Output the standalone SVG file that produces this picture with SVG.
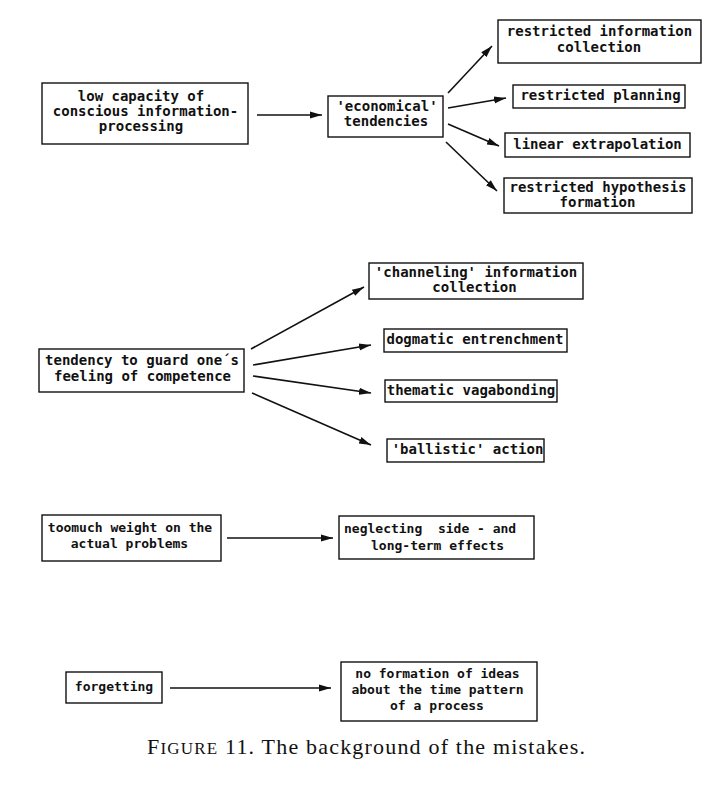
<svg xmlns="http://www.w3.org/2000/svg" width="718" height="793" viewBox="0 0 718 793">
<style>
rect.box{fill:#fff;stroke:#111;stroke-width:1.4}
text.t{font-family:"DejaVu Sans Mono","Liberation Mono",monospace;font-weight:bold;font-size:14px;fill:#111;text-anchor:middle}
text.s{font-size:13px}
.conn line{stroke:#111;stroke-width:1.6;marker-end:url(#ah)}
text.cap{font-family:"Liberation Serif","Times New Roman",serif;font-size:22px;fill:#111}
</style>
<defs>
<marker id="ah" markerUnits="userSpaceOnUse" markerWidth="14" markerHeight="10" refX="12" refY="5" orient="auto">
<path d="M0,1.5 L12,5 L0,8.5 Z" fill="#111"/>
</marker>
</defs>
<rect width="718" height="793" fill="#fff"/>

<g id="n_lowcap"><rect class="box" x="42" y="83" width="206" height="61"/>
<text class="t" x="141" y="101">low capacity of</text>
<text class="t" x="145.5" y="116">conscious information-</text>
<text class="t" x="141" y="131">processing</text></g>

<g id="n_econ"><rect class="box" x="328" y="96" width="115" height="41"/>
<text class="t" x="387" y="111">'economical'</text>
<text class="t" x="386" y="126">tendencies</text></g>

<g id="n_rinfo"><rect class="box" x="498" y="20" width="203" height="43"/>
<text class="t" x="599.5" y="36">restricted information</text>
<text class="t" x="599" y="52">collection</text></g>

<g id="n_rplan"><rect class="box" x="513" y="85" width="172" height="23"/>
<text class="t" x="600.5" y="100">restricted planning</text></g>

<g id="n_linear"><rect class="box" x="505" y="133" width="185" height="24"/>
<text class="t" x="597.5" y="149">linear extrapolation</text></g>

<g id="n_rhyp"><rect class="box" x="504" y="178" width="188" height="35"/>
<text class="t" x="598" y="192">restricted hypothesis</text>
<text class="t" x="597.5" y="207">formation</text></g>

<g id="n_guard"><rect class="box" x="39" y="349" width="205" height="43"/>
<text class="t" x="142" y="365">tendency to guard one´s</text>
<text class="t" x="142.5" y="381">feeling of competence</text></g>

<g id="n_channel"><rect class="box" x="369" y="263" width="214" height="36"/>
<text class="t" x="476" y="277">'channeling' information</text>
<text class="t" x="474.5" y="292">collection</text></g>

<g id="n_dogma"><rect class="box" x="384" y="329" width="183" height="23"/>
<text class="t" x="475" y="344">dogmatic entrenchment</text></g>

<g id="n_vaga"><rect class="box" x="385" y="380" width="172" height="22"/>
<text class="t" x="471" y="395">thematic vagabonding</text></g>

<g id="n_ballistic"><rect class="box" x="387" y="439" width="157" height="23"/>
<text class="t" x="467.5" y="454">'ballistic' action</text></g>

<g id="n_toomuch"><rect class="box" x="42" y="515" width="179" height="46"/>
<text class="t s" x="130" y="532">toomuch weight on the</text>
<text class="t s" x="129.5" y="548">actual problems</text></g>

<g id="n_neglect"><rect class="box" x="339" y="516" width="195" height="43"/>
<text class="t s" x="344" y="533" style="text-anchor:start" xml:space="preserve">neglecting  side - and</text>
<text class="t s" x="371" y="550" style="text-anchor:start">long-term effects</text></g>

<g id="n_forget"><rect class="box" x="66" y="672" width="96" height="31"/>
<text class="t s" x="114" y="691">forgetting</text></g>

<g id="n_noform"><rect class="box" x="341" y="662" width="196" height="59"/>
<text class="t s" x="437.5" y="678">no formation of ideas</text>
<text class="t s" x="437.5" y="694">about the time pattern</text>
<text class="t s" x="437" y="710">of a process</text></g>

<g id="connectors" class="conn">
<line x1="257" y1="115" x2="322" y2="115"/>
<line x1="448" y1="93" x2="492" y2="46"/>
<line x1="448" y1="108" x2="506" y2="98"/>
<line x1="448" y1="124" x2="499" y2="146"/>
<line x1="446" y1="142" x2="497" y2="191"/>
<line x1="251" y1="349" x2="364" y2="287"/>
<line x1="253" y1="365" x2="371" y2="345"/>
<line x1="253" y1="376" x2="371" y2="393"/>
<line x1="252" y1="393" x2="371" y2="445"/>
<line x1="227" y1="538" x2="333" y2="538"/>
<line x1="170" y1="688" x2="331" y2="688"/>
</g>

<text class="cap" x="147" y="754" textLength="438" lengthAdjust="spacing">F<tspan font-size="17">IGURE</tspan> 11. The background of the mistakes.</text>
</svg>
